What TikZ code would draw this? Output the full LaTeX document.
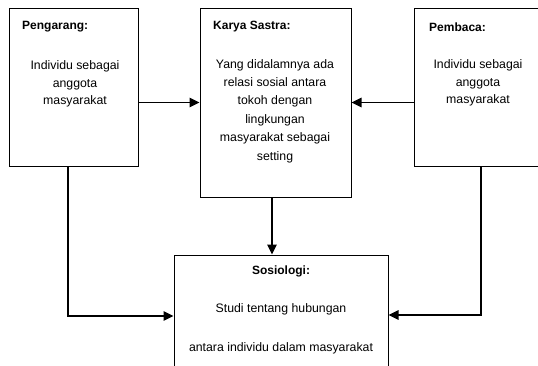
\documentclass[tikz,border=0pt]{standalone}
\usepackage{fontspec}
\setmainfont{Liberation Sans}
\usetikzlibrary{arrows.meta,positioning}
\begin{document}
\begin{tikzpicture}[x=1pt,y=-1pt,
  box/.style={draw,line width=1pt,minimum width=#1,inner sep=0pt},
  ttl/.style={font=\bfseries\fontsize{12}{14}\selectfont,inner sep=0pt},
  txt/.style={align=center,inner sep=0pt},
  arr/.style={line width=1.4pt,-{Triangle[length=10pt,width=9.5pt]}},
  ln/.style={line width=1.4pt}]
\useasboundingbox (0,0) rectangle (538,365);
% boxes
\node[box=129pt,minimum height=158pt] (peng) at (73.5,87) {};
\node[box=151pt,minimum height=189pt] (karya) at (275.5,102.5) {};
\node[box=125pt,minimum height=158pt] (pemb) at (476.5,87) {};
\node[box=214pt,minimum height=113pt] (sos) at (281,311.5) {};
% titles
\node[ttl,anchor=west] (tpeng) at (22,27) {Pengarang:};
\node[ttl,anchor=west] (tkarya) at (213,27) {Karya Sastra:};
\node[ttl,anchor=west] (tpemb) at (429,27) {Pembaca:};
\node[ttl] (tsos) at (281,271) {Sosiologi:};
% body texts
\node[txt,font=\fontsize{12.3}{17.5}\selectfont] (bpeng) at (75,84) {Individu sebagai\\anggota\\masyarakat};
\node[txt,font=\fontsize{12.3}{18.4}\selectfont] (bkarya) at (275,111) {Yang didalamnya ada\\relasi sosial antara\\tokoh dengan\\lingkungan\\masyarakat sebagai\\setting};
\node[txt,font=\fontsize{12.3}{17.5}\selectfont] (bpemb) at (478,83) {Individu sebagai\\anggota\\masyarakat};
\node[txt,font=\fontsize{12.3}{39}\selectfont] (bsos) at (281,329) {Studi tentang hubungan\\antara individu dalam masyarakat};
% connectors
\draw[arr] (peng.east |- karya.west) -- (karya.west);
\draw[arr] (pemb.west |- karya.east) -- (karya.east);
\draw[arr] ([xshift=-3.5pt]karya.south) -- ([xshift=-3.5pt]karya.south |- sos.north);
\coordinate (lc) at (68,316);
\coordinate (rc) at (481,315);
\draw[arr] ([xshift=-5.5pt]peng.south) -- ([xshift=-5.5pt]peng.south |- lc) -- (sos.west |- lc);
\draw[arr] ([xshift=4.5pt]pemb.south) -- ([xshift=4.5pt]pemb.south |- rc) -- (sos.east |- rc);
\end{tikzpicture}
\end{document}
